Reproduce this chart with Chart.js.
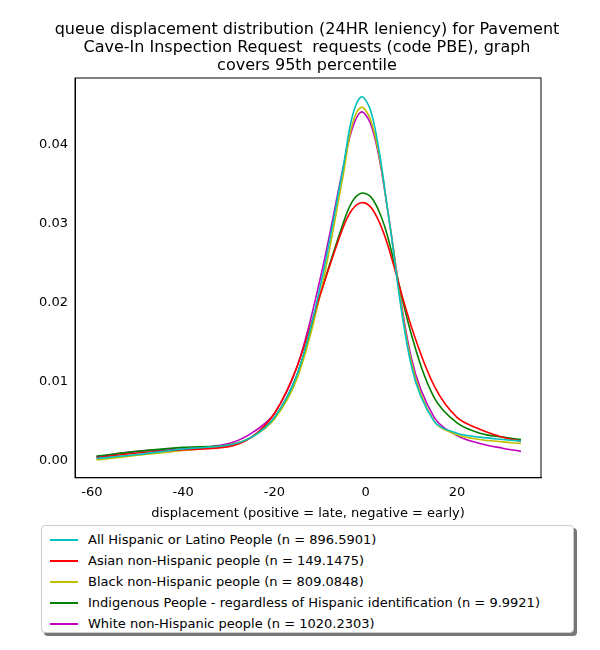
<!DOCTYPE html>
<html><head><meta charset="utf-8">
<script src="https://cdn.jsdelivr.net/npm/chart.js@4"></script>
<style>
body{margin:0;background:#fff;font-family:"DejaVu Sans",sans-serif;}
#wrap{position:relative;width:600px;height:650px;}
#title{position:absolute;left:7px;width:600px;top:20px;text-align:center;font-size:16px;line-height:18px;color:#000;}
#c{position:absolute;left:0;top:0;}
#legend{position:absolute;left:41px;top:525px;width:533px;height:108px;border:1px solid #ccc;border-radius:4px;box-shadow:3px 3px 0 #777;background:#fff;font-size:13px;box-sizing:border-box;padding:3px 0 0 8px;}
.row{display:flex;align-items:center;height:21px;}
.sw{width:28px;height:0;border-top:2px solid;margin-right:10px;}
</style></head><body>
<div id="wrap"><canvas id="c" width="600" height="525"></canvas>
<div id="title">queue displacement distribution (24HR leniency) for Pavement<br>Cave-In Inspection Request&nbsp; requests (code PBE), graph<br>covers 95th percentile</div>
<div id="legend"></div></div>
<script>
const xs = [-59,-50,-40,-30,-25,-20,-15,-10,-5,-3,-1,1,3,5,10,15,20,25,30,34];
const hispanic = [0.0003,0.0008,0.0015,0.002,0.003,0.0055,0.011,0.022,0.037,0.0435,0.0461,0.0445,0.039,0.031,0.012,0.005,0.0035,0.003,0.0027,0.0025];
const asian = [0.0004,0.001,0.0014,0.0018,0.003,0.006,0.012,0.021,0.0295,0.0318,0.0327,0.0322,0.0302,0.027,0.017,0.0095,0.0055,0.004,0.003,0.0025];
const black = [0.0001,0.0007,0.0013,0.002,0.003,0.0053,0.0105,0.021,0.036,0.0425,0.0448,0.0433,0.0385,0.031,0.0125,0.005,0.0033,0.0027,0.0024,0.0022];
const indigenous = [0.0006,0.0012,0.0017,0.002,0.003,0.0055,0.011,0.021,0.030,0.0328,0.0339,0.0335,0.0315,0.028,0.016,0.008,0.0048,0.0035,0.003,0.0027];
const white = [0.0005,0.0012,0.0015,0.0022,0.0035,0.006,0.012,0.023,0.037,0.042,0.0442,0.0428,0.0382,0.031,0.013,0.0055,0.0032,0.0022,0.0016,0.0012];
const labels = ['All Hispanic or Latino People (n = 896.5901)','Asian non-Hispanic people (n = 149.1475)','Black non-Hispanic people (n = 809.0848)','Indigenous People - regardless of Hispanic identification (n = 9.9921)','White non-Hispanic people (n = 1020.2303)'];
const colors = ['#00bfbf','#ff0000','#bfbf00','#008000','#bf00bf'];
const series = [hispanic, asian, black, indigenous, white];

const datasets = series.map((s, i) => ({
  label: labels[i],
  data: xs.map((x, j) => ({x: x, y: s[j]})),
  borderColor: colors[i], borderWidth: 1.6, pointRadius: 0,
  tension: 0.35, fill: false
}));

new Chart(document.getElementById('c'), {
  type: 'line',
  data: {datasets: datasets},
  options: {
    responsive: false, animation: false,
    layout: {padding: {right: 59, left: 0, top: 78}},
    scales: {
      x: {type: 'linear', min: -63.7, max: 38.4,
        afterBuildTicks: a => { a.ticks = [-60,-40,-20,0,20].map(v => ({value: v})); },
        grid: {display: false, drawTicks: true, tickLength: 4, tickColor: '#000'},
        border: {color: '#000'},
        ticks: {color: '#000', font: {size: 13, family: 'DejaVu Sans'}},
        title: {display: true, text: 'displacement (positive = late, negative = early)', color: '#000', font: {size: 13, family: 'DejaVu Sans'}, padding: {top: 2}}
      },
      y: {min: -0.00215, max: 0.0485,
        afterBuildTicks: a => { a.ticks = [0,0.01,0.02,0.03,0.04].map(v => ({value: v})); },
        afterFit: a => { a.width = 75; },
        grid: {display: false, tickLength: 4, tickColor: '#000'},
        border: {color: '#000'},
        ticks: {color: '#000', font: {size: 13, family: 'DejaVu Sans'}, callback: v => v.toFixed(2)}
      }
    },
    plugins: {legend: {display: false}, tooltip: {enabled: false}}
  },
  plugins: [{id: 'frame', afterDraw(ch) {
    const a = ch.chartArea, c = ch.ctx;
    c.save(); c.strokeStyle = '#000'; c.lineWidth = 1;
    c.strokeRect(a.left, a.top, a.right - a.left, a.bottom - a.top); c.restore();
  }}]
});

const lg = document.getElementById('legend');
labels.forEach((l, i) => {
  lg.innerHTML += `<div class="row"><span class="sw" style="border-color:${colors[i]}"></span>${l}</div>`;
});
</script></body></html>
